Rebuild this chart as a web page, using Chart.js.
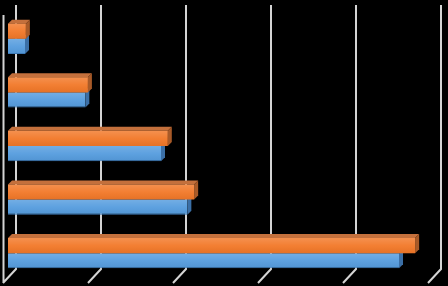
<!DOCTYPE html>
<html>
<head>
<meta charset="utf-8">
<script src="https://cdn.jsdelivr.net/npm/chart.js@4/dist/chart.umd.min.js"></script>
<style>
    html, body { margin: 0; padding: 0; background: #000; }
    #chart { display: block; }
</style>
</head>
<body>
<canvas id="chart" width="448" height="286"></canvas>
<script>
const categories = ["1", "2", "3", "4", "5"];
const seriesOrange = [2.1, 9.4, 18.8, 21.9, 47.9];
const seriesBlue = [2.0, 9.1, 18.0, 21.1, 46.0];
const xTicks = [0, 10, 20, 30, 40, 50];

const DEPTH = 4;

/* back wall grid lines + floor diagonals */
const wallGrid = {
    id: "wallGrid",
    beforeDatasetsDraw(chart) {
        const { ctx, chartArea } = chart;
        const x = chart.scales.x;
        ctx.save();
        ctx.strokeStyle = "#d4d4d4";
        ctx.lineWidth = 2;
        ctx.beginPath();
        xTicks.forEach(v => {
            const px = x.getPixelForValue(v);
            ctx.moveTo(px + 8, chartArea.top - 7);
            ctx.lineTo(px + 8, chartArea.bottom - 11);
            ctx.lineTo(px - 5, chartArea.bottom + 3);
        });
        /* left wall edge */
        const x0 = x.getPixelForValue(0);
        ctx.moveTo(x0 - 4.5, chartArea.top + 3);
        ctx.lineTo(x0 - 4.5, chartArea.bottom + 3);
        ctx.stroke();
        ctx.restore();
    }
};

/* top and side faces of the bars, drawn behind the fronts */
const barDepth = {
    id: "barDepth",
    beforeDatasetsDraw(chart) {
        const { ctx } = chart;
        const faces = [
            { top: "#c4703c", side: "#a85a28" },
            { top: "#3f78b4", side: "#3b6fa6" }
        ];
        [1, 0].forEach(di => {
            const meta = chart.getDatasetMeta(di);
            meta.data.forEach(bar => {
                const t = bar.y - bar.height / 2;
                const b = bar.y + bar.height / 2;
                ctx.save();
                ctx.fillStyle = faces[di].top;
                ctx.beginPath();
                ctx.moveTo(bar.base, t);
                ctx.lineTo(bar.base + DEPTH, t - DEPTH);
                ctx.lineTo(bar.x + DEPTH, t - DEPTH);
                ctx.lineTo(bar.x, t);
                ctx.closePath();
                ctx.fill();
                ctx.fillStyle = faces[di].side;
                ctx.beginPath();
                ctx.moveTo(bar.x, t);
                ctx.lineTo(bar.x + DEPTH, t - DEPTH);
                ctx.lineTo(bar.x + DEPTH, b - DEPTH);
                ctx.lineTo(bar.x, b);
                ctx.closePath();
                ctx.fill();
                ctx.restore();
            });
        });
    },
    afterDatasetsDraw(chart) {
        /* soft shine on the front faces */
        const { ctx } = chart;
        [0, 1].forEach(di => {
            chart.getDatasetMeta(di).data.forEach(bar => {
                const t = bar.y - bar.height / 2;
                const b = bar.y + bar.height / 2;
                const g = ctx.createLinearGradient(0, t, 0, b);
                g.addColorStop(0, "rgba(255,255,255,0.18)");
                g.addColorStop(0.5, "rgba(255,255,255,0.05)");
                g.addColorStop(1, "rgba(0,0,0,0.05)");
                ctx.save();
                ctx.fillStyle = g;
                ctx.fillRect(bar.base, t, bar.x - bar.base, b - t);
                ctx.restore();
            });
        });
    }
};

new Chart(document.getElementById("chart"), {
    type: "bar",
    data: {
        labels: categories,
        datasets: [
            {
                label: "Series 2",
                data: seriesOrange,
                backgroundColor: "#f27828",
                borderWidth: 0,
                barPercentage: 1,
                categoryPercentage: 0.565
            },
            {
                label: "Series 1",
                data: seriesBlue,
                backgroundColor: "#559cde",
                borderColor: "#3f7fbf",
                borderWidth: { bottom: 1 },
                borderSkipped: false,
                barPercentage: 1,
                categoryPercentage: 0.565
            }
        ]
    },
    options: {
        indexAxis: "y",
        responsive: false,
        animation: false,
        layout: { padding: { left: 8, right: 15, top: 12, bottom: 6 } },
        plugins: {
            legend: { display: false },
            tooltip: { enabled: false }
        },
        scales: {
            x: { display: false, min: 0, max: 50 },
            y: { display: false }
        }
    },
    plugins: [wallGrid, barDepth]
});
</script>
</body>
</html>
